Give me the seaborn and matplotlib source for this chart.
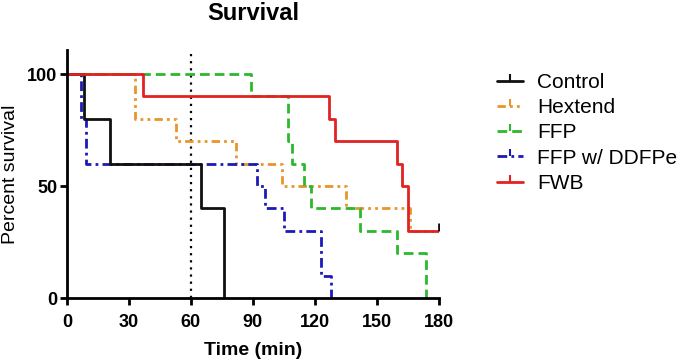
import matplotlib
matplotlib.use("Agg")
import matplotlib.pyplot as plt
import seaborn as sns
import pandas as pd
from matplotlib.lines import Line2D

groups = ["Control", "Hextend", "FFP", "FFP w/ DDFPe", "FWB"]
control_t = [0, 8, 21, 65, 76]
control_s = [100, 80, 60, 40, 0]
hextend_t = [0, 33, 53, 82, 104, 135, 166, 180]
hextend_s = [100, 80, 70, 60, 50, 40, 30, 30]
ffp_t = [0, 89, 107, 109, 115, 118, 142, 160, 174]
ffp_s = [100, 90, 70, 60, 50, 40, 30, 20, 0]
ddfpe_t = [0, 7, 9, 92, 96, 105, 123, 128]
ddfpe_s = [100, 80, 60, 50, 40, 30, 10, 0]
fwb_t = [0, 37, 127, 130, 160, 162, 165, 180]
fwb_s = [100, 90, 80, 70, 60, 50, 30, 30]

colors = {"Control": "#111111", "Hextend": "#E8952A", "FFP": "#2DB82D",
          "FFP w/ DDFPe": "#1A1AB8", "FWB": "#E02222"}
dashes = {"Control": "", "Hextend": (3, 1.5, 1, 1.5, 1, 1.5), "FFP": (3.5, 1.8),
          "FFP w/ DDFPe": (3.5, 1.5, 1, 1.5), "FWB": ""}

series = {"Control": (control_t, control_s), "Hextend": (hextend_t, hextend_s),
          "FFP": (ffp_t, ffp_s), "FFP w/ DDFPe": (ddfpe_t, ddfpe_s), "FWB": (fwb_t, fwb_s)}
rows = []
for g in groups:
    t, s = series[g]
    for a, b in zip(t, s):
        rows.append({"Time": a, "Survival": b, "Group": g})
df = pd.DataFrame(rows)

sns.set_theme(style="ticks")
plt.rcParams['font.family'] = ['Liberation Sans', 'DejaVu Sans']
for k in ["text.color", "axes.labelcolor", "xtick.color", "ytick.color", "axes.edgecolor"]:
    plt.rcParams[k] = "black"

fig = plt.figure(figsize=(6.77, 3.63), dpi=100)
ax = fig.add_axes([0.099, 0.179, 0.549, 0.683])

ax.axvline(60, color="black", linestyle=(0, (1, 2.2)), linewidth=1.6, zorder=1)

order = ["Hextend", "FFP", "FFP w/ DDFPe", "Control", "FWB"]
sns.lineplot(data=df, x="Time", y="Survival", hue="Group", style="Group",
             hue_order=order, style_order=order, palette=colors, dashes=dashes,
             estimator=None, sort=False, drawstyle="steps-post", linewidth=2,
             legend=False, ax=ax)
# censor tick at end of FWB
ax.plot([fwb_t[-1]], [fwb_s[-1]], marker=2, markersize=6, mew=2, color="#111111")

ax.set_xlim(0, 180)
ax.set_ylim(0, 110.7)
ax.set_xticks([0, 30, 60, 90, 120, 150, 180])
ax.set_yticks([0, 50, 100])
for sp in ["top", "right"]:
    ax.spines[sp].set_visible(False)
for sp in ["left", "bottom"]:
    ax.spines[sp].set_linewidth(2)
    ax.spines[sp].set_color("black")
ax.tick_params(width=2, length=5, color="black", labelsize=13)
ax.tick_params(axis="x", pad=6.5)
ax.tick_params(axis="y", pad=2)
for lab in ax.get_xticklabels() + ax.get_yticklabels():
    lab.set_fontweight("bold")
ax.set_xlabel("Time (min)", fontsize=14, fontweight="bold", labelpad=8)
ax.set_ylabel("Percent survival", fontsize=14, fontweight="medium", labelpad=6)
fig.text(0.374, 0.964, "Survival", fontsize=17, fontweight="bold",
         ha="center", va="center")

handles = []
for g in groups:
    h = Line2D([0], [0], color=colors[g], linewidth=2, marker=2, markersize=5, mew=1.5)
    if dashes[g]:
        h.set_dashes(dashes[g])
    else:
        h.set_linestyle("-")
    handles.append(h)
leg = fig.legend(handles, groups, loc="upper left", bbox_to_anchor=(0.734, 0.799),
                 frameon=False, fontsize=15, handlelength=1.25, labelspacing=0.3,
                 handletextpad=0.67, borderpad=0, borderaxespad=0, numpoints=1)

fig.savefig("out.png", dpi=100)
